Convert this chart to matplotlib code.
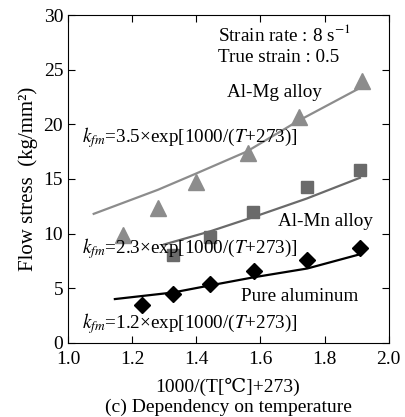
import matplotlib
matplotlib.use("Agg")
import matplotlib.pyplot as plt

plt.rcParams['font.family'] = ['Liberation Serif', 'DejaVu Serif', 'Noto Sans CJK SC']
plt.rcParams['mathtext.fontset'] = 'stix'

# Al-Mg alloy (triangles)
mg_x = [1.17, 1.28, 1.40, 1.56, 1.72, 1.915]
mg_y = [9.9, 12.3, 14.7, 17.4, 20.7, 24.0]
mg_fit_x = [1.08, 1.28, 1.40, 1.557, 1.717, 1.915]
mg_fit_y = [11.8, 14.0, 15.5, 17.5, 20.3, 23.4]

# Al-Mn alloy (squares)
mn_x = [1.327, 1.443, 1.577, 1.744, 1.91]
mn_y = [8.0, 9.7, 12.0, 14.3, 15.8]
mn_fit_x = [1.30, 1.443, 1.577, 1.744, 1.91]
mn_fit_y = [9.0, 10.2, 11.5, 13.2, 15.1]

# Pure aluminum (diamonds)
al_x = [1.23, 1.327, 1.443, 1.58, 1.746, 1.91]
al_y = [3.5, 4.5, 5.4, 6.6, 7.6, 8.7]
al_fit_x = [1.146, 1.327, 1.443, 1.58, 1.746, 1.91]
al_fit_y = [4.0, 4.6, 5.25, 6.0, 6.8, 8.1]

fig = plt.figure(figsize=(4.05, 4.17), dpi=100)
ax = fig.add_axes([0.168, 0.178, 0.792, 0.786])

ax.plot(mg_fit_x, mg_fit_y, color='#8c8c8c', lw=1.6)
ax.plot(mg_x, mg_y, '^', color='#8c8c8c', ms=11, ls='none')
ax.plot(mn_fit_x, mn_fit_y, color='#6a6a6a', lw=1.6)
ax.plot(mn_x, mn_y, 's', color='#6a6a6a', ms=8.5, ls='none')
ax.plot(al_fit_x, al_fit_y, color='black', lw=1.6)
ax.plot(al_x, al_y, 'D', color='black', ms=8, ls='none')

fs = 13.8
ax.text(1.466, 28.2, 'Strain rate : 8 s$^{-1}$', fontsize=fs, va='center')
ax.text(1.466, 26.1, 'True strain : 0.5', fontsize=fs, va='center')
ax.text(1.495, 22.9, 'Al-Mg alloy', fontsize=fs, va='center')
ax.text(1.043, 18.8, r'$k_{fm}$=3.5×exp[1000/($T$+273)]', fontsize=fs, va='center')
ax.text(1.654, 11.1, 'Al-Mn alloy', fontsize=fs, va='center')
ax.text(1.043, 8.6, r'$k_{fm}$=2.3×exp[1000/($T$+273)]', fontsize=fs, va='center')
ax.text(1.539, 4.2, 'Pure aluminum', fontsize=fs, va='center')
ax.text(1.043, 1.8, r'$k_{fm}$=1.2×exp[1000/($T$+273)]', fontsize=fs, va='center')

ax.set_xlim(1.0, 2.0)
ax.set_ylim(0, 30)
ax.set_xticks([1.0, 1.2, 1.4, 1.6, 1.8, 2.0])
ax.set_xticklabels(['1.0', '1.2', '1.4', '1.6', '1.8', '2.0'])
ax.set_yticks([0, 5, 10, 15, 20, 25, 30])
ax.tick_params(direction='in', top=True, right=True, labelsize=14, length=5)
ax.tick_params(axis='x', pad=6)
ax.set_ylabel('Flow stress  (kg/mm²)', fontsize=15)

fig.text(0.563, 0.072, '1000/(T[℃]+273)', fontsize=14, ha='center', va='center')
fig.text(0.563, 0.024, '(c) Dependency on temperature', fontsize=14, ha='center', va='center')

fig.savefig('out.png', dpi=100)
